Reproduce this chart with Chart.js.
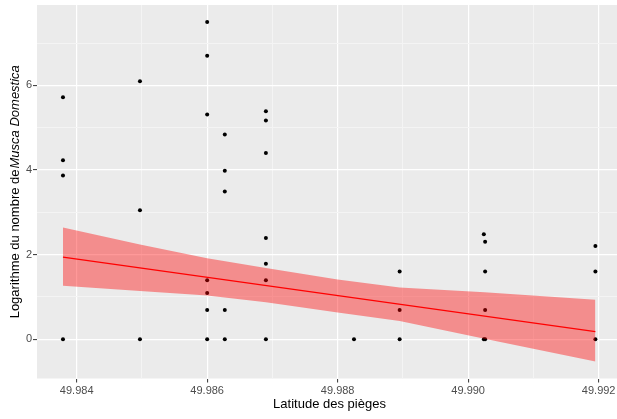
<!DOCTYPE html>
<html>
<head>
<meta charset="utf-8">
<script src="https://cdn.jsdelivr.net/npm/chart.js@4.4.1/dist/chart.umd.min.js"></script>
<style>
  body { margin: 0; background: #fff; overflow: hidden; }
  #zone { width: 617px; height: 419px; }
</style>
</head>
<body>
<div id="zone"><canvas id="grafico" width="617" height="419"></canvas></div>
<script>
// points
const latitudes = [
    49.98379, 49.98379, 49.98379, 49.98379,
    49.98497, 49.98497, 49.98497,
    49.98600, 49.98600, 49.98600, 49.98600, 49.98600, 49.98600, 49.98600,
    49.98627, 49.98627, 49.98627, 49.98627, 49.98627,
    49.98690, 49.98690, 49.98690, 49.98690, 49.98690, 49.98690, 49.98690,
    49.98825,
    49.98895, 49.98895, 49.98895,
    49.99024, 49.99024, 49.99026, 49.99026, 49.99026, 49.99026,
    49.99195, 49.99195, 49.99195
];
const logMusca = [
    5.72, 4.23, 3.87, 0,
    6.10, 3.05, 0,
    7.50, 6.70, 5.31, 1.39, 1.09, 0.69, 0,
    4.84, 3.98, 3.49, 0.69, 0,
    5.39, 5.17, 4.40, 2.39, 1.78, 1.39, 0,
    0,
    1.60, 0.69, 0,
    2.48, 0, 2.30, 1.60, 0.69, 0,
    2.20, 1.60, 0
];

// droite de régression et intervalle de confiance
const droiteX = [49.98379, 49.99195];
const droiteY = [1.94, 0.18];
const bandeX = [49.98379, 49.98497, 49.98600, 49.98690, 49.98800, 49.98895, 49.99025, 49.99195];
const bandeHaut = [2.64, 2.24, 1.91, 1.68, 1.41, 1.22, 1.11, 0.93];
const bandeBas = [1.26, 1.14, 1.03, 0.87, 0.63, 0.43, 0.01, -0.53];

const xMajeurs = [49.984, 49.986, 49.988, 49.990, 49.992];
const xMineurs = [49.985, 49.987, 49.989, 49.991];
const yMajeurs = [0, 2, 4, 6];
const yMineurs = [1, 3, 5, 7];

const titreX = 'Latitude des pièges';
const titreY = 'Logarithme du nombre de';
const titreYItalique = 'Musca Domestica';

const police = '"Liberation Sans", Arial, sans-serif';

function paires(xs, ys) {
    return xs.map((x, i) => ({ x: x, y: ys[i] }));
}

function estMajeur(liste, v) {
    return liste.some(m => Math.abs(m - v) < 1e-7);
}

// zone du panneau imposée (comme dans ggplot)
const panneau = { left: 37, top: 5, right: 617, bottom: 378.5 };

const cadrePanneau = {
    id: 'cadrePanneau',
    afterLayout(chart) {
        const a = chart.chartArea;
        a.left = panneau.left; a.top = panneau.top;
        a.right = panneau.right; a.bottom = panneau.bottom;
        a.width = a.right - a.left; a.height = a.bottom - a.top;
        const x = chart.scales.x, y = chart.scales.y;
        x.left = a.left; x.right = a.right; x.width = a.width;
        x.top = a.bottom; x.bottom = chart.height; x.height = x.bottom - x.top;
        y.left = 0; y.right = a.left; y.width = a.left;
        y.top = a.top; y.bottom = a.bottom; y.height = a.height;
        x.configure();
        y.configure();
    }
};

const fondPanneau = {
    id: 'fondPanneau',
    beforeDraw(chart) {
        const { ctx, chartArea } = chart;
        ctx.save();
        ctx.fillStyle = '#EBEBEB';
        ctx.fillRect(chartArea.left, chartArea.top, chartArea.right - chartArea.left, chartArea.bottom - chartArea.top);
        ctx.restore();
    }
};

const titresAxes = {
    id: 'titresAxes',
    afterDraw(chart) {
        const { ctx, chartArea } = chart;
        ctx.save();
        ctx.fillStyle = '#000';
        ctx.textBaseline = 'middle';
        ctx.textAlign = 'center';
        ctx.font = '13px ' + police;
        ctx.fillText(titreX, (chartArea.left + 622) / 2, 404);

        // titre vertical en deux styles
        const normal = '13px ' + police;
        const italique = 'italic 13px ' + police;
        ctx.font = normal;
        const l1 = ctx.measureText(titreY).width;
        ctx.font = italique;
        const l2 = ctx.measureText(titreYItalique).width;
        const ecart = 1;
        const total = l1 + ecart + l2;
        ctx.translate(15, (chartArea.top + chartArea.bottom) / 2);
        ctx.rotate(-Math.PI / 2);
        ctx.textAlign = 'left';
        ctx.font = normal;
        ctx.fillText(titreY, -total / 2, 0);
        ctx.font = italique;
        ctx.fillText(titreYItalique, -total / 2 + l1 + ecart, 0);
        ctx.restore();
    }
};

const ctx = document.getElementById('grafico').getContext('2d');
new Chart(ctx, {
    type: 'scatter',
    data: {
        datasets: [
            {
                label: 'Régression',
                data: paires(droiteX, droiteY),
                showLine: true,
                borderColor: '#FF0000',
                borderWidth: 1.3,
                pointRadius: 0,
                fill: false,
                order: 0
            },
            {
                label: 'IC haut',
                data: paires(bandeX, bandeHaut),
                showLine: true,
                borderWidth: 0,
                borderColor: 'rgba(0,0,0,0)',
                pointRadius: 0,
                backgroundColor: 'rgba(255,0,0,0.4)',
                fill: '+1',
                order: 1
            },
            {
                label: 'IC bas',
                data: paires(bandeX, bandeBas),
                showLine: true,
                borderWidth: 0,
                borderColor: 'rgba(0,0,0,0)',
                pointRadius: 0,
                fill: false,
                order: 1
            },
            {
                label: 'Pièges',
                data: paires(latitudes, logMusca),
                pointRadius: 2,
                pointBackgroundColor: '#000',
                pointBorderWidth: 0,
                order: 2
            }
        ]
    },
    options: {
        responsive: false,
        animation: false,
        layout: { padding: { top: 5, right: 0, left: 0, bottom: 0 } },
        plugins: {
            legend: { display: false },
            tooltip: { enabled: false }
        },
        scales: {
            x: {
                type: 'linear',
                min: 49.983392,
                max: 49.992281,
                afterFit: function (scale) {
                    scale.height = 41;
                    scale.paddingLeft = 0;
                    scale.paddingRight = 0;
                },
                afterBuildTicks: function (scale) {
                    scale.ticks = xMajeurs.concat(xMineurs).sort((a, b) => a - b).map(v => ({ value: v }));
                },
                border: { display: false },
                grid: {
                    color: c => estMajeur(xMajeurs, c.tick.value) ? '#FFFFFF' : '#F4F4F4',
                    lineWidth: c => estMajeur(xMajeurs, c.tick.value) ? 1.2 : 1,
                    tickColor: c => estMajeur(xMajeurs, c.tick.value) ? '#333333' : 'rgba(0,0,0,0)',
                    tickLength: 4,
                    tickWidth: 1
                },
                ticks: {
                    autoSkip: false,
                    maxRotation: 0,
                    padding: 2,
                    color: '#4D4D4D',
                    font: { family: police, size: 11 },
                    callback: function (v) { return estMajeur(xMajeurs, v) ? v.toFixed(3) : ''; }
                }
            },
            y: {
                type: 'linear',
                min: -0.93,
                max: 7.90,
                afterFit: function (scale) {
                    scale.width = 37;
                    scale.paddingTop = 0;
                    scale.paddingBottom = 0;
                },
                afterBuildTicks: function (scale) {
                    scale.ticks = yMajeurs.concat(yMineurs).sort((a, b) => a - b).map(v => ({ value: v }));
                },
                border: { display: false },
                grid: {
                    color: c => estMajeur(yMajeurs, c.tick.value) ? '#FFFFFF' : '#F4F4F4',
                    lineWidth: c => estMajeur(yMajeurs, c.tick.value) ? 1.2 : 1,
                    tickColor: c => estMajeur(yMajeurs, c.tick.value) ? '#333333' : 'rgba(0,0,0,0)',
                    tickLength: 4,
                    tickWidth: 1
                },
                ticks: {
                    autoSkip: false,
                    padding: 1,
                    color: '#4D4D4D',
                    font: { family: police, size: 11 },
                    callback: function (v) { return estMajeur(yMajeurs, v) ? String(v) : ''; }
                }
            }
        }
    },
    plugins: [cadrePanneau, fondPanneau, titresAxes]
});
</script>
</body>
</html>
